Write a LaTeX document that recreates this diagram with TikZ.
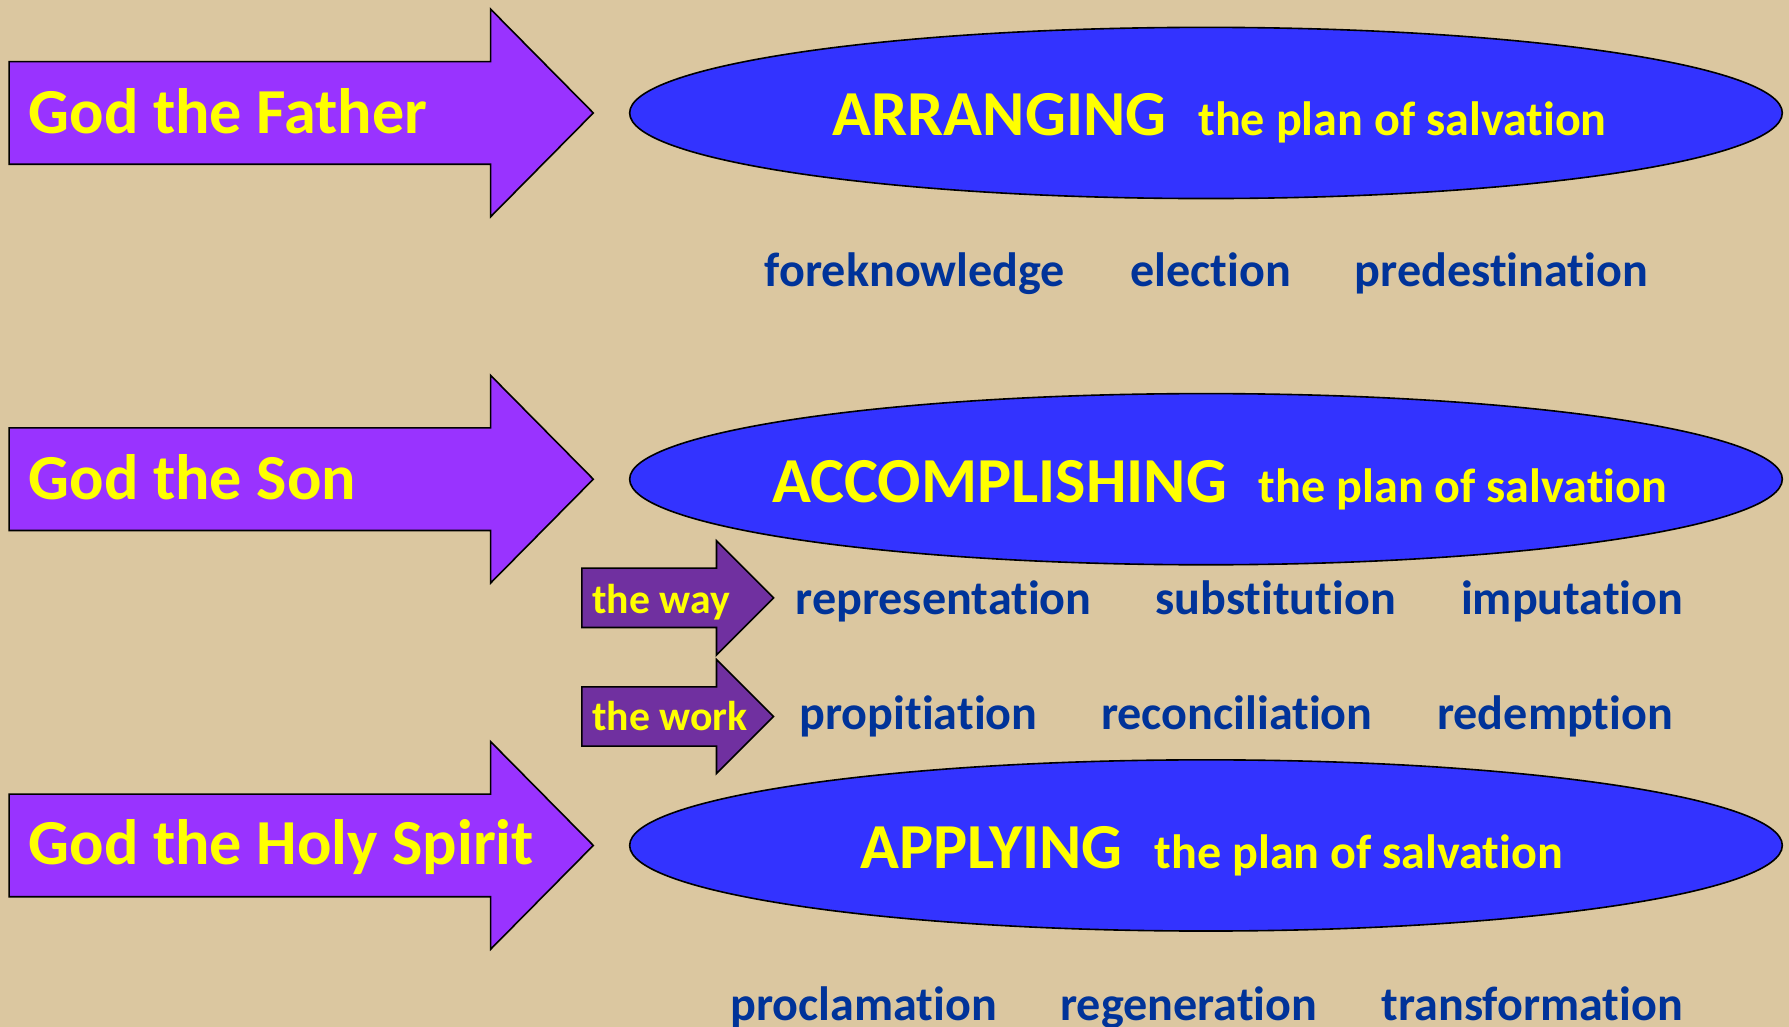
\documentclass[tikz,border=0pt]{standalone}
\usepackage{fontspec}
\setmainfont{Carlito}[Ligatures={NoCommon}]
\usepackage{xcolor}
\usetikzlibrary{shapes.geometric}

\definecolor{bgtan}{RGB}{219,199,160}
\definecolor{godpurple}{RGB}{153,51,255}
\definecolor{waypurple}{RGB}{112,48,160}
\definecolor{ovalblue}{RGB}{51,51,255}
\definecolor{wordblue}{RGB}{0,51,153}
\definecolor{textyellow}{RGB}{255,255,0}

\begin{document}
\begin{tikzpicture}[
    x=0.025cm, y=-0.025cm,
    godarrow/.style={draw=black, fill=godpurple, line width=1pt},
    wayarrow/.style={draw=black, fill=waypurple, line width=1pt},
    godtext/.style={text=textyellow, font=\bfseries\fontsize{40}{48}\selectfont, inner sep=0pt},
    waytext/.style={text=textyellow, font=\bfseries\fontsize{26}{31}\selectfont, inner sep=0pt},
    oval/.style={draw=black, fill=ovalblue, ellipse, line width=1pt, inner sep=0pt,
                 minimum width=25.25cm, minimum height=3.75cm},
    plantext/.style={text=textyellow, font=\bfseries, inner sep=0pt, anchor=base},
    word/.style={text=wordblue, font=\bfseries\fontsize{30}{36}\selectfont, inner sep=0pt, anchor=base}
]

% Background
\fill[bgtan] (0,0) rectangle (1568,900);
\useasboundingbox (0,0) rectangle (1568,900);
\clip (0,0) rectangle (1568,900);

% Big arrows
\foreach \yc in {99,420,741}
  \draw[godarrow] (8,\yc-45) -- (430,\yc-45) -- (430,\yc-91) -- (520,\yc)
     -- (430,\yc+91) -- (430,\yc+45) -- (8,\yc+45) -- cycle;

% Small arrows
\foreach \yc in {524,628}
  \draw[wayarrow] (510,\yc-26) -- (628,\yc-26) -- (628,\yc-50) -- (678,\yc)
     -- (628,\yc+50) -- (628,\yc+26) -- (510,\yc+26) -- cycle;

% Nodes
\node[godtext, anchor=base west] (Father) at (25,117) {God the Father};
\node[godtext, anchor=base west] (Son) at (25,438) {God the Son};
\node[godtext, anchor=base west] (Spirit) at (25,758) {God the Holy Spirit};

\node[oval] (Arr) at (1057,99) {};
\node[oval] (Acc) at (1057,420) {};
\node[oval] (App) at (1057,741) {};

\node[plantext] (ArrT) at (1069,119) {{\fontsize{40}{48}\selectfont ARRANGING}\hspace{20pt}{\fontsize{30}{36}\selectfont the plan of salvation}};
\node[plantext] (AccT) at (1069,440) {{\fontsize{40}{48}\selectfont ACCOMPLISHING}\hspace{20pt}{\fontsize{30}{36}\selectfont the plan of salvation}};
\node[plantext] (AppT) at (1062,761) {{\fontsize{40}{48}\selectfont APPLYING}\hspace{20pt}{\fontsize{30}{36}\selectfont the plan of salvation}};

\node[waytext, anchor=base west] (Way) at (519,538) {the way};
\node[waytext, anchor=base west] (Work) at (519,640) {the work};

% Labels
\node[word] (Fore) at (802,251) {foreknowledge};
\node[word] (Elec) at (1061,251) {election};
\node[word] (Pred) at (1316,251) {predestination};

\node[word] (Repr) at (827,539) {representation};
\node[word] (Subs) at (1118,539) {substitution};
\node[word] (Impu) at (1378,539) {imputation};

\node[word] (Prop) at (805,639) {propitiation};
\node[word] (Reco) at (1084,639) {reconciliation};
\node[word] (Rede) at (1363,639) {redemption};

\node[word] (Proc) at (757,894) {proclamation};
\node[word] (Rege) at (1042,894) {regeneration};
\node[word] (Tran) at (1343,894) {transformation};

\end{tikzpicture}
\end{document}
